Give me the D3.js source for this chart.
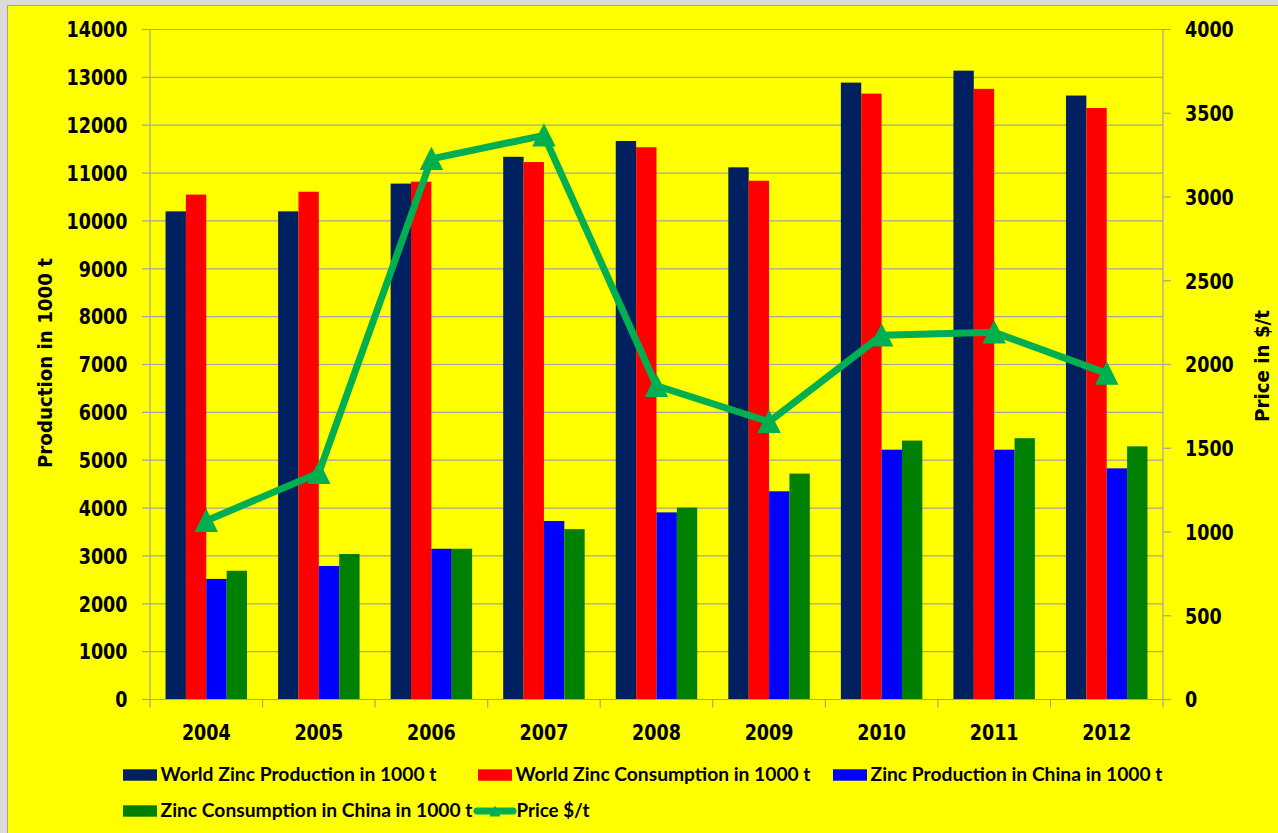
<!DOCTYPE html>
<html>
<head>
<meta charset="utf-8">
<title>Zinc production, consumption and price 2004–2012</title>
<script src="https://cdn.jsdelivr.net/npm/d3@7"></script>
<style>
  html, body { margin: 0; padding: 0; background: #dedbd6; }
  svg { display: block; }
</style>
</head>
<body>
<svg id="chart" width="1278" height="833"></svg>
<script>
// ---- data -------------------------------------------------------------
const years = ["2004", "2005", "2006", "2007", "2008", "2009", "2010", "2011", "2012"];
const worldProduction  = [10200, 10200, 10780, 11340, 11670, 11120, 12890, 13140, 12620];
const worldConsumption = [10550, 10610, 10820, 11230, 11540, 10840, 12660, 12760, 12360];
const chinaProduction  = [2520, 2790, 3150, 3730, 3910, 4350, 5220, 5220, 4830];
const chinaConsumption = [2690, 3040, 3150, 3560, 4010, 4720, 5410, 5460, 5290];
const priceUSD         = [1067, 1353, 3228, 3368, 1873, 1658, 2174, 2192, 1947];

const leftTicks  = [0, 1000, 2000, 3000, 4000, 5000, 6000, 7000, 8000, 9000, 10000, 11000, 12000, 13000, 14000];
const rightTicks = [0, 500, 1000, 1500, 2000, 2500, 3000, 3500, 4000];

const barSeriesNames = [
  "World Zinc Production in 1000 t",
  "World Zinc Consumption in 1000 t",
  "Zinc Production in China in 1000 t",
  "Zinc Consumption in China in 1000 t"
];
const priceSeriesName = "Price $/t";
const leftAxisTitle = "Production in 1000 t";
const rightAxisTitle = "Price in $/t";

// ---- styles -----------------------------------------------------------
const barColors = ["#002060", "#ff0000", "#0000ff", "#008000"];
const priceColor = "#00b050";
const gridColor = "#a3a3a3";
const tickFont = "'DejaVu Sans', Verdana, sans-serif";
const legendFont = "Lato, 'Open Sans', sans-serif";

const barSeries = [worldProduction, worldConsumption, chinaProduction, chinaConsumption];

// ---- layout -----------------------------------------------------------
const svg = d3.select("#chart");
const plot = { left: 150, right: 1163, top: 29.5, bottom: 699.5 };

// chart background panel
svg.append("rect")
  .attr("x", 7.5).attr("y", 5.5)
  .attr("width", 1280).attr("height", 840)
  .attr("fill", "#ffff00")
  .attr("stroke", "#a0a0a0").attr("stroke-width", 1);

const x0 = d3.scaleBand()
  .domain(years)
  .range([plot.left, plot.right])
  .paddingInner(0.276)
  .paddingOuter(0.138);

const x1 = d3.scaleBand()
  .domain(d3.range(barSeries.length))
  .range([0, x0.bandwidth()]);

const yLeft = d3.scaleLinear().domain([0, 14000]).range([plot.bottom, plot.top]);
const yRight = d3.scaleLinear().domain([0, 4000]).range([plot.bottom, plot.top]);

// gridlines
svg.append("g")
  .selectAll("line")
  .data(leftTicks.filter(d => d > 0))
  .join("line")
  .attr("x1", plot.left).attr("x2", plot.right)
  .attr("y1", d => yLeft(d)).attr("y2", d => yLeft(d))
  .attr("stroke", gridColor).attr("stroke-width", 1.2);

// grouped bars
const groups = svg.append("g")
  .selectAll("g")
  .data(years)
  .join("g")
  .attr("transform", d => `translate(${x0(d)},0)`);

groups.selectAll("rect")
  .data((year, i) => barSeries.map((s, k) => ({ k, value: s[i] })))
  .join("rect")
  .attr("x", d => x1(d.k))
  .attr("width", x1.bandwidth())
  .attr("y", d => yLeft(d.value))
  .attr("height", d => yLeft(0) - yLeft(d.value))
  .attr("fill", d => barColors[d.k]);

// axes (lines and tick marks)
const axisG = svg.append("g")
  .attr("stroke", gridColor).attr("stroke-width", 1.2).attr("fill", "none");

axisG.append("line")
  .attr("x1", plot.left).attr("x2", plot.left)
  .attr("y1", plot.top).attr("y2", plot.bottom);
axisG.append("line")
  .attr("x1", plot.right).attr("x2", plot.right)
  .attr("y1", plot.top).attr("y2", plot.bottom);
axisG.append("line")
  .attr("x1", plot.left).attr("x2", plot.right)
  .attr("y1", plot.bottom).attr("y2", plot.bottom);

axisG.selectAll(".lt")
  .data(leftTicks)
  .join("line").attr("class", "lt")
  .attr("x1", plot.left - 8).attr("x2", plot.left)
  .attr("y1", d => yLeft(d)).attr("y2", d => yLeft(d));

axisG.selectAll(".rt")
  .data(rightTicks)
  .join("line").attr("class", "rt")
  .attr("x1", plot.right).attr("x2", plot.right + 8)
  .attr("y1", d => yRight(d)).attr("y2", d => yRight(d));

const catEdges = years.map(y => x0(y) - x0.step() * x0.paddingOuter()).concat([plot.right]);
axisG.selectAll(".ct")
  .data(catEdges)
  .join("line").attr("class", "ct")
  .attr("x1", d => d).attr("x2", d => d)
  .attr("y1", plot.bottom).attr("y2", plot.bottom + 8);

// tick labels: narrow bold numerals
const digitW = 12.2;
const labelStyle = sel => sel
  .attr("font-family", tickFont)
  .attr("font-weight", "bold")
  .attr("font-size", 21)
  .attr("fill", "#000")
  .attr("lengthAdjust", "spacingAndGlyphs")
  .attr("textLength", d => String(d).length * digitW);

svg.append("g").selectAll("text")
  .data(leftTicks)
  .join("text")
  .call(labelStyle)
  .attr("text-anchor", "end")
  .attr("x", 127.5)
  .attr("y", d => yLeft(d) + 7.8)
  .text(d => d);

svg.append("g").selectAll("text")
  .data(rightTicks)
  .join("text")
  .call(labelStyle)
  .attr("text-anchor", "start")
  .attr("x", 1185)
  .attr("y", d => yRight(d) + 7.8)
  .text(d => d);

svg.append("g").selectAll("text")
  .data(years)
  .join("text")
  .call(labelStyle)
  .attr("text-anchor", "middle")
  .attr("x", d => x0(d) + x0.bandwidth() / 2)
  .attr("y", 739.5)
  .text(d => d);

// axis titles
svg.append("text")
  .attr("font-family", tickFont).attr("font-weight", "bold").attr("font-size", 19)
  .attr("text-anchor", "middle")
  .attr("transform", "translate(52,363) rotate(-90)")
  .attr("textLength", 210).attr("lengthAdjust", "spacingAndGlyphs")
  .text(leftAxisTitle);

svg.append("text")
  .attr("font-family", tickFont).attr("font-weight", "bold").attr("font-size", 19)
  .attr("text-anchor", "middle")
  .attr("transform", "translate(1269,366) rotate(-90)")
  .attr("textLength", 112).attr("lengthAdjust", "spacingAndGlyphs")
  .text(rightAxisTitle);

// price line on the secondary axis
const cx = (d, i) => x0(years[i]) + x0.bandwidth() / 2;
const line = d3.line()
  .x((d, i) => cx(d, i))
  .y(d => yRight(d));

svg.append("path")
  .datum(priceUSD)
  .attr("d", line)
  .attr("fill", "none")
  .attr("stroke", priceColor)
  .attr("stroke-width", 7)
  .attr("stroke-linejoin", "round");

const tri = s => `M0,${-s}L${s},${s}L${-s},${s}Z`;
svg.append("g").selectAll("path")
  .data(priceUSD)
  .join("path")
  .attr("d", tri(10.5))
  .attr("transform", (d, i) => `translate(${cx(d, i)},${yRight(d)})`)
  .attr("fill", priceColor)
  .attr("stroke", priceColor)
  .attr("stroke-width", 1.5)
  .attr("stroke-linejoin", "miter");

// legend
const legendItems = [
  { name: barSeriesNames[0], color: barColors[0], x: 123, row: 0, len: 276 },
  { name: barSeriesNames[1], color: barColors[1], x: 478, row: 0, len: 295 },
  { name: barSeriesNames[2], color: barColors[2], x: 833, row: 0, len: 292 },
  { name: barSeriesNames[3], color: barColors[3], x: 123, row: 1, len: 312 }
];
const rowY = [775, 811];

const leg = svg.append("g");
const items = leg.selectAll("g")
  .data(legendItems)
  .join("g")
  .attr("transform", d => `translate(${d.x},${rowY[d.row]})`);

items.append("rect")
  .attr("x", 0).attr("y", -5.7)
  .attr("width", 34).attr("height", 11.4)
  .attr("fill", d => d.color);

items.append("text")
  .attr("x", 37.5).attr("y", 6)
  .attr("font-family", legendFont).attr("font-weight", "bold").attr("font-size", 18.5)
  .attr("textLength", d => d.len).attr("lengthAdjust", "spacingAndGlyphs")
  .text(d => d.name);

const priceLeg = leg.append("g").attr("transform", `translate(474,${rowY[1]})`);
priceLeg.append("line")
  .attr("x1", 3).attr("x2", 39).attr("y1", 0).attr("y2", 0)
  .attr("stroke", priceColor).attr("stroke-width", 7).attr("stroke-linecap", "round");
priceLeg.append("path")
  .attr("d", tri(5.5))
  .attr("transform", "translate(21,0)")
  .attr("fill", priceColor);
priceLeg.append("text")
  .attr("x", 42.5).attr("y", 6)
  .attr("font-family", legendFont).attr("font-weight", "bold").attr("font-size", 18.5)
  .attr("textLength", 73).attr("lengthAdjust", "spacingAndGlyphs")
  .text(priceSeriesName);
</script>
</body>
</html>
